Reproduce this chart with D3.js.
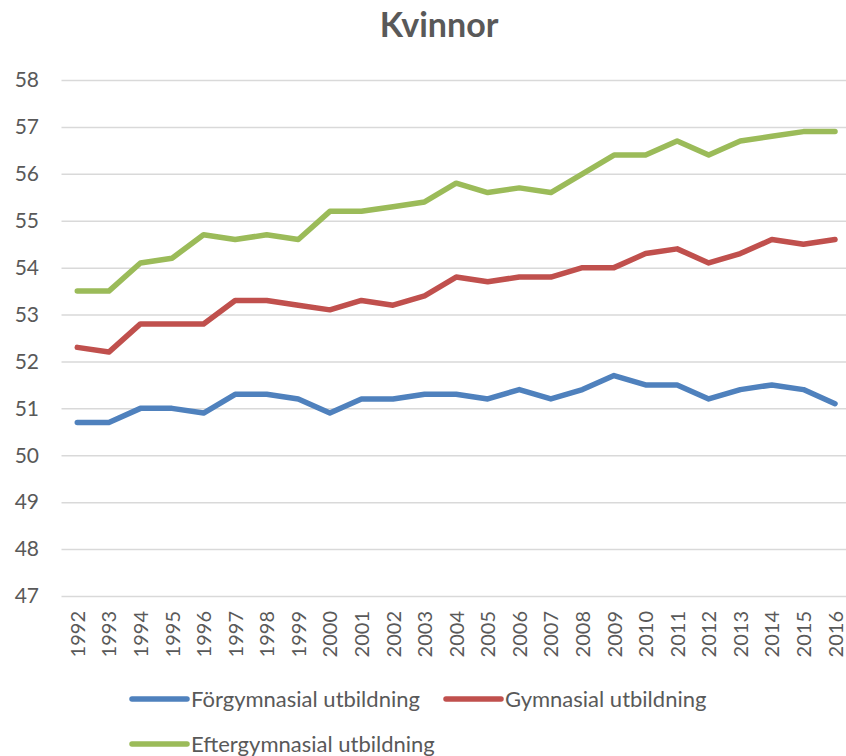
<!DOCTYPE html>
<html>
<head>
<meta charset="utf-8">
<script src="https://cdn.jsdelivr.net/npm/d3@7"></script>
<style>
  body { margin: 0; background: #fff; }
  text { font-family: Lato, "Open Sans", sans-serif; fill: #595959; }
</style>
</head>
<body>
<div id="chart"></div>
<script>
const years = d3.range(1992, 2017).map(String);
const forgymnasial = [50.7, 50.7, 51.0, 51.0, 50.9, 51.3, 51.3, 51.2, 50.9, 51.2, 51.2, 51.3, 51.3, 51.2, 51.4, 51.2, 51.4, 51.7, 51.5, 51.5, 51.2, 51.4, 51.5, 51.4, 51.1];
const gymnasial = [52.3, 52.2, 52.8, 52.8, 52.8, 53.3, 53.3, 53.2, 53.1, 53.3, 53.2, 53.4, 53.8, 53.7, 53.8, 53.8, 54.0, 54.0, 54.3, 54.4, 54.1, 54.3, 54.6, 54.5, 54.6];
const eftergymnasial = [53.5, 53.5, 54.1, 54.2, 54.7, 54.6, 54.7, 54.6, 55.2, 55.2, 55.3, 55.4, 55.8, 55.6, 55.7, 55.6, 56.0, 56.4, 56.4, 56.7, 56.4, 56.7, 56.8, 56.9, 56.9];
const seriesNames = ["Förgymnasial utbildning", "Gymnasial utbildning", "Eftergymnasial utbildning"];
const colors = ["#4F81BD", "#C0504D", "#9BBB59"];
const yTicks = d3.range(47, 59);

const width = 846, height = 756;

const series = [forgymnasial, gymnasial, eftergymnasial].map((vals, i) => ({
    name: seriesNames[i],
    color: colors[i],
    values: vals.map((v, j) => ({ year: years[j], v }))
}));

const x = d3.scalePoint().domain(years).range([61.5, 850.8]).padding(0.5);
const y = d3.scaleLinear().domain([47, 58]).range([596, 80]);

const svg = d3.select("#chart").append("svg")
    .attr("width", width)
    .attr("height", height);

svg.append("text")
    .attr("x", 439)
    .attr("y", 37)
    .attr("text-anchor", "middle")
    .attr("font-size", 34)
    .attr("font-weight", "bold")
    .text("Kvinnor");

// gridlines
svg.append("g")
    .attr("transform", "translate(61.5,0)")
    .call(d3.axisLeft(y).tickValues(yTicks).tickSize(-(850.8 - 61.5)).tickFormat(""))
    .call(g => g.select(".domain").remove())
    .call(g => g.selectAll(".tick line").attr("stroke", "#d9d9d9").attr("stroke-width", 1.5));

// y labels
svg.append("g")
    .attr("transform", "translate(39,0)")
    .call(d3.axisLeft(y).tickValues(yTicks).tickSize(0).tickPadding(0))
    .call(g => g.select(".domain").remove())
    .call(g => g.selectAll("text").attr("font-size", 21).attr("fill", "#595959")
        .style("font-family", "Lato, 'Open Sans', sans-serif"));

// x labels
svg.append("g")
    .attr("transform", "translate(0,596)")
    .call(d3.axisBottom(x).tickSize(0))
    .call(g => g.select(".domain").remove())
    .call(g => g.selectAll("text")
        .attr("font-size", 20)
        .attr("fill", "#595959")
        .style("font-family", "Lato, 'Open Sans', sans-serif")
        .attr("text-anchor", "end")
        .attr("transform", "rotate(-90)")
        .attr("x", -15)
        .attr("y", 0)
        .attr("dy", "0.35em"));

const line = d3.line().x(d => x(d.year)).y(d => y(d.v));

svg.append("g").selectAll("path")
    .data(series)
    .join("path")
    .attr("fill", "none")
    .attr("stroke", d => d.color)
    .attr("stroke-width", 5.5)
    .attr("stroke-linejoin", "round")
    .attr("stroke-linecap", "round")
    .attr("d", d => line(d.values));

// legend
const legendPos = [[132, 699], [446, 699], [132, 744]];
const leg = svg.append("g").selectAll("g")
    .data(series)
    .join("g")
    .attr("transform", (d, i) => `translate(${legendPos[i][0]},${legendPos[i][1]})`);
leg.append("line")
    .attr("x1", 0).attr("x2", 55)
    .attr("stroke", d => d.color)
    .attr("stroke-width", 5.5)
    .attr("stroke-linecap", "round");
leg.append("text")
    .attr("x", 59)
    .attr("dy", "0.35em")
    .attr("font-size", 22)
    .text(d => d.name);
</script>
</body>
</html>
